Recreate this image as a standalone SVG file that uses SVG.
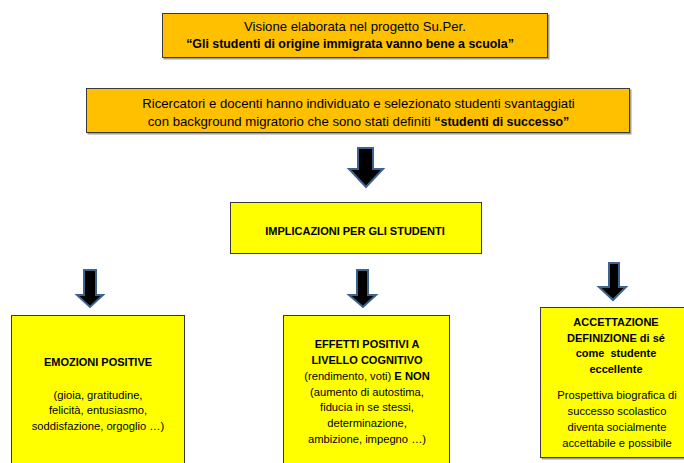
<svg xmlns="http://www.w3.org/2000/svg" width="684" height="463" viewBox="0 0 684 463">
<defs>
<style>
.orange{fill:#FFC000;stroke:#3a3a3a;stroke-width:1}
.yellow{fill:#FFFF00;stroke:#3a3a3a;stroke-width:1}
.shadow{fill:#a0a0a0}
.arrow{fill:#000;stroke:#3D6491;stroke-width:2;stroke-linejoin:miter}
text{font-family:"Liberation Sans",Arial,sans-serif;fill:#000;text-anchor:middle}
.t13{font-size:13.2px}
.b13{font-size:12.4px;font-weight:bold}
.t11{font-size:11.2px}
.b11{font-size:11px;font-weight:bold}
</style>
</defs>
<rect width="684" height="463" fill="#fff"/>
<g id="connectors">
<path class="arrow" d="M358,148 H373 V169 H383 L366,187 L349,169 H358 Z"/>
<path class="arrow" d="M84,270 H96 V295 H103 L90,307 L77,295 H84 Z"/>
<path class="arrow" d="M357,270 H368 V295 H376 L363,307 L349,295 H357 Z"/>
<path class="arrow" d="M609,263 H619 V287 H626 L613,300 L599,287 H609 Z"/>
</g>
<g id="node-visione">
<rect class="shadow" x="163.5" y="14.5" width="386" height="45"/>
<rect class="orange" x="162.5" y="13.5" width="385" height="44"/>
<text class="t13" x="355" y="30.5">Visione elaborata nel progetto Su.Per.</text>
<text class="b13" x="350" y="48">“Gli studenti di origine immigrata vanno bene a scuola”</text>
</g>
<g id="node-ricercatori">
<rect class="shadow" x="87.5" y="89.5" width="544" height="45"/>
<rect class="orange" x="86.5" y="88.5" width="543" height="44"/>
<text class="t13" x="358.5" y="107.5">Ricercatori e docenti hanno individuato e selezionato studenti svantaggiati</text>
<text class="t13" x="358.5" y="125.5">con background migratorio che sono stati definiti <tspan font-weight="bold" font-size="12.4px">“studenti di successo”</tspan></text>
</g>
<g id="node-implicazioni">
<rect class="yellow" x="230.5" y="202.5" width="251" height="51"/>
<text class="b11" x="355" y="235">IMPLICAZIONI PER GLI STUDENTI</text>
</g>
<g id="node-emozioni">
<rect class="yellow" x="11.5" y="315.5" width="173" height="160"/>
<text class="b11" x="98" y="366">EMOZIONI POSITIVE</text>
<text class="t11" x="98" y="398.5">(gioia, gratitudine,</text>
<text class="t11" x="98" y="414">felicità, entusiasmo,</text>
<text class="t11" x="98" y="430">soddisfazione, orgoglio …)</text>
</g>
<g id="node-effetti">
<rect class="yellow" x="283.5" y="315.5" width="166" height="160"/>
<text class="b11" x="367" y="348">EFFETTI POSITIVI A</text>
<text class="b11" x="367" y="364">LIVELLO COGNITIVO</text>
<text class="t11" x="367" y="380">(rendimento, voti) <tspan font-weight="bold">E NON</tspan></text>
<text class="t11" x="367" y="395.5">(aumento di autostima,</text>
<text class="t11" x="367" y="411">fiducia in se stessi,</text>
<text class="t11" x="367" y="427">determinazione,</text>
<text class="t11" x="367" y="442.5">ambizione, impegno …)</text>
</g>
<g id="node-accettazione">
<rect class="shadow" x="541.5" y="308.5" width="145" height="151"/>
<rect class="yellow" x="540.5" y="307.5" width="144" height="150"/>
<text class="b11" x="616" y="326">ACCETTAZIONE</text>
<text class="b11" x="616" y="341.5">DEFINIZIONE di sé</text>
<text class="b11" x="616" y="357" xml:space="preserve">come  studente</text>
<text class="b11" x="616" y="372.5">eccellente</text>
<text class="t11" x="617" y="399">Prospettiva biografica di</text>
<text class="t11" x="617" y="415">successo scolastico</text>
<text class="t11" x="617" y="431">diventa socialmente</text>
<text class="t11" x="617" y="447">accettabile e possibile</text>
</g>
</svg>
